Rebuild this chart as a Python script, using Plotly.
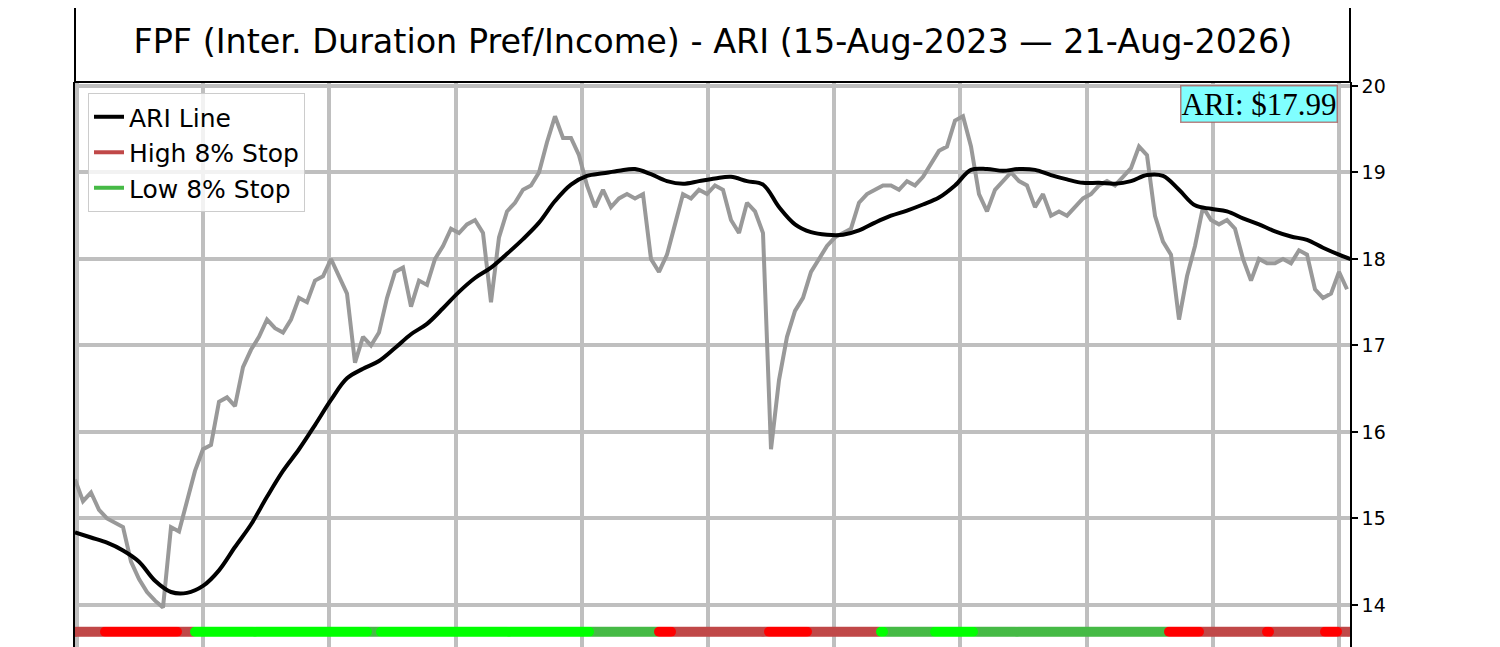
import numpy as np
import plotly.graph_objects as go

# x axis is a trading-day index; price sampled every 4 days, ARI every 8 days
price_step = 4
price = [
    15.45, 15.2, 15.3, 15.1, 15.0, 14.95, 14.9, 14.5, 14.3, 14.15,
    14.05, 13.97, 14.9, 14.85, 15.2, 15.55, 15.8, 15.85, 16.35, 16.4,
    16.3, 16.75, 16.95, 17.1, 17.3, 17.2, 17.15, 17.3, 17.55, 17.5,
    17.75, 17.8, 18.0, 17.8, 17.6, 16.8, 17.1, 17.0, 17.15, 17.55,
    17.85, 17.9, 17.45, 17.75, 17.7, 18.0, 18.15, 18.35, 18.3, 18.4,
    18.45, 18.3, 17.5, 18.25, 18.55, 18.65, 18.8, 18.85, 19.0, 19.35,
    19.65, 19.4, 19.4, 19.2, 18.85, 18.6, 18.8, 18.6, 18.7, 18.75,
    18.7, 18.75, 18.0, 17.85, 18.05, 18.4, 18.75, 18.7, 18.8, 18.75,
    18.85, 18.8, 18.45, 18.3, 18.65, 18.55, 18.3, 15.8, 16.6, 17.1,
    17.4, 17.55, 17.85, 18.0, 18.15, 18.25, 18.3, 18.35, 18.65, 18.75,
    18.8, 18.85, 18.85, 18.8, 18.9, 18.85, 18.95, 19.1, 19.25, 19.3,
    19.6, 19.65, 19.3, 18.75, 18.55, 18.8, 18.9, 19.0, 18.9, 18.85,
    18.6, 18.75, 18.5, 18.55, 18.5, 18.6, 18.7, 18.75, 18.85, 18.9,
    18.85, 18.95, 19.05, 19.3, 19.2, 18.5, 18.2, 18.05, 17.3, 17.8,
    18.15, 18.6, 18.45, 18.4, 18.45, 18.35, 18.0, 17.75, 18.0, 17.95,
    17.95, 18.0, 17.95, 18.1, 18.05, 17.65, 17.55, 17.6, 17.85, 17.65,
]

ari_step = 8
ari = [
    14.84, 14.78, 14.72, 14.63, 14.50, 14.28, 14.15, 14.14, 14.22, 14.40,
    14.67, 14.93, 15.25, 15.55, 15.80, 16.08, 16.37, 16.62, 16.73, 16.82,
    16.97, 17.13, 17.25, 17.43, 17.62, 17.78, 17.90, 18.06, 18.23, 18.42,
    18.67, 18.86, 18.96, 18.99, 19.02, 19.04, 18.98, 18.90, 18.87, 18.90,
    18.93, 18.95, 18.90, 18.86, 18.60, 18.40, 18.31, 18.28, 18.28, 18.33,
    18.42, 18.50, 18.56, 18.63, 18.71, 18.85, 19.03, 19.04, 19.02, 19.04,
    19.03, 18.97, 18.92, 18.88, 18.88, 18.87, 18.90, 18.97, 18.96, 18.80,
    18.62, 18.58, 18.55, 18.47, 18.40, 18.32, 18.26, 18.22, 18.13, 18.05,
    17.98,
]
ari_last = "ARI: $17.99"

# stop band: run lengths (end day of each run) and state
stop_ends = [15, 51.5, 59.5, 146.5, 153, 258, 291.5, 298.5, 347, 367, 403,
             405, 429.5, 449.5, 547, 562.5, 596, 598, 625, 631.5, 638]
stop_states = ["high", "high_hit", "high", "low_hit", "low", "low_hit", "low",
               "high_hit", "high", "high_hit", "high", "low_hit", "low",
               "low_hit", "low", "high_hit", "high", "high_hit", "high",
               "high_hit", "high"]
stop_level = 13.69

title = "FPF (Inter. Duration Pref/Income) - ARI (15-Aug-2023 \u2014 21-Aug-2026)"

colors = {"high": "#C04848", "high_hit": "#FF0000", "low": "#46BA46", "low_hit": "#00FF00"}

fig = go.Figure()

px_x = np.arange(len(price)) * price_step
fig.add_trace(go.Scatter(x=px_x, y=price, mode="lines",
                         line=dict(color="#999999", width=4), showlegend=False))

ari_x = np.arange(len(ari)) * ari_step
fig.add_trace(go.Scatter(x=ari_x, y=ari, mode="lines", name="ARI Line",
                         line=dict(color="black", width=4, shape="spline")))

# legend-only entries for the stop lines
fig.add_trace(go.Scatter(x=[None], y=[None], mode="lines", name="High 8% Stop",
                         line=dict(color=colors["high"], width=4)))
fig.add_trace(go.Scatter(x=[None], y=[None], mode="lines", name="Low 8% Stop",
                         line=dict(color=colors["low"], width=4)))

days = np.arange(0, 638, 1.0)
state_of_day = []
for d in days:
    for end, st in zip(stop_ends, stop_states):
        if d < end:
            state_of_day.append(st)
            break
    else:
        state_of_day.append(stop_states[-1])
state_of_day = np.array(state_of_day)
for st in ["high", "low", "high_hit", "low_hit"]:
    m = state_of_day == st
    fig.add_trace(go.Scatter(x=days[m], y=[stop_level] * int(m.sum()), mode="markers",
                             marker=dict(color=colors[st], size=10, line=dict(width=0)),
                             showlegend=False))

# page body has an 8px margin, so the figure is offset by 8px
plot_h = 565
fig.add_shape(type="rect", xref="paper", yref="paper", x0=0, x1=1, y0=1, y1=1 + 81 / plot_h,
              line=dict(color="black", width=2), fillcolor="rgba(0,0,0,0)")

fig.add_annotation(text=ari_last, xref="paper", yref="paper", x=0.9906, y=0.994,
                   xanchor="right", yanchor="top", showarrow=False,
                   font=dict(family="Liberation Serif", size=31, color="black"),
                   bgcolor="#80FFFF", bordercolor="rgba(170,80,80,0.7)", borderwidth=1.5,
                   borderpad=0)

fig.update_layout(
    width=1492, height=639,
    margin=dict(l=67, r=150, t=74, b=0),
    plot_bgcolor="white", paper_bgcolor="white",
    font=dict(family="DejaVu Sans", color="black"),
    title=dict(text=title, x=0.4725, xanchor="center", y=1 - 33 / 639, yanchor="middle",
               font=dict(size=33.4, family="DejaVu Sans", color="black")),
    legend=dict(x=0.0102, y=0.9805, xanchor="left", yanchor="top",
                bgcolor="rgba(255,255,255,0.8)", bordercolor="#CCCCCC", borderwidth=1,
                font=dict(size=25, family="DejaVu Sans"), itemwidth=30,
                tracegroupgap=0),
)
fig.update_xaxes(range=[0, 637.5], tick0=1, dtick=63.1, showticklabels=False,
                 showgrid=True, gridcolor="#BFBFBF", gridwidth=3.5, zeroline=False,
                 showline=False, ticks="")
fig.update_yaxes(range=[13.514, 20.046], side="right", tickvals=[14, 15, 16, 17, 18, 19, 20],
                 showgrid=True, gridcolor="#BFBFBF", gridwidth=3.5, zeroline=False,
                 showline=True, linecolor="black", linewidth=1.5, mirror=True,
                 ticks="outside", ticklen=6, tickwidth=1.5, tickcolor="black",
                 tickfont=dict(size=19, family="DejaVu Sans"))

fig.write_html("out.html")
